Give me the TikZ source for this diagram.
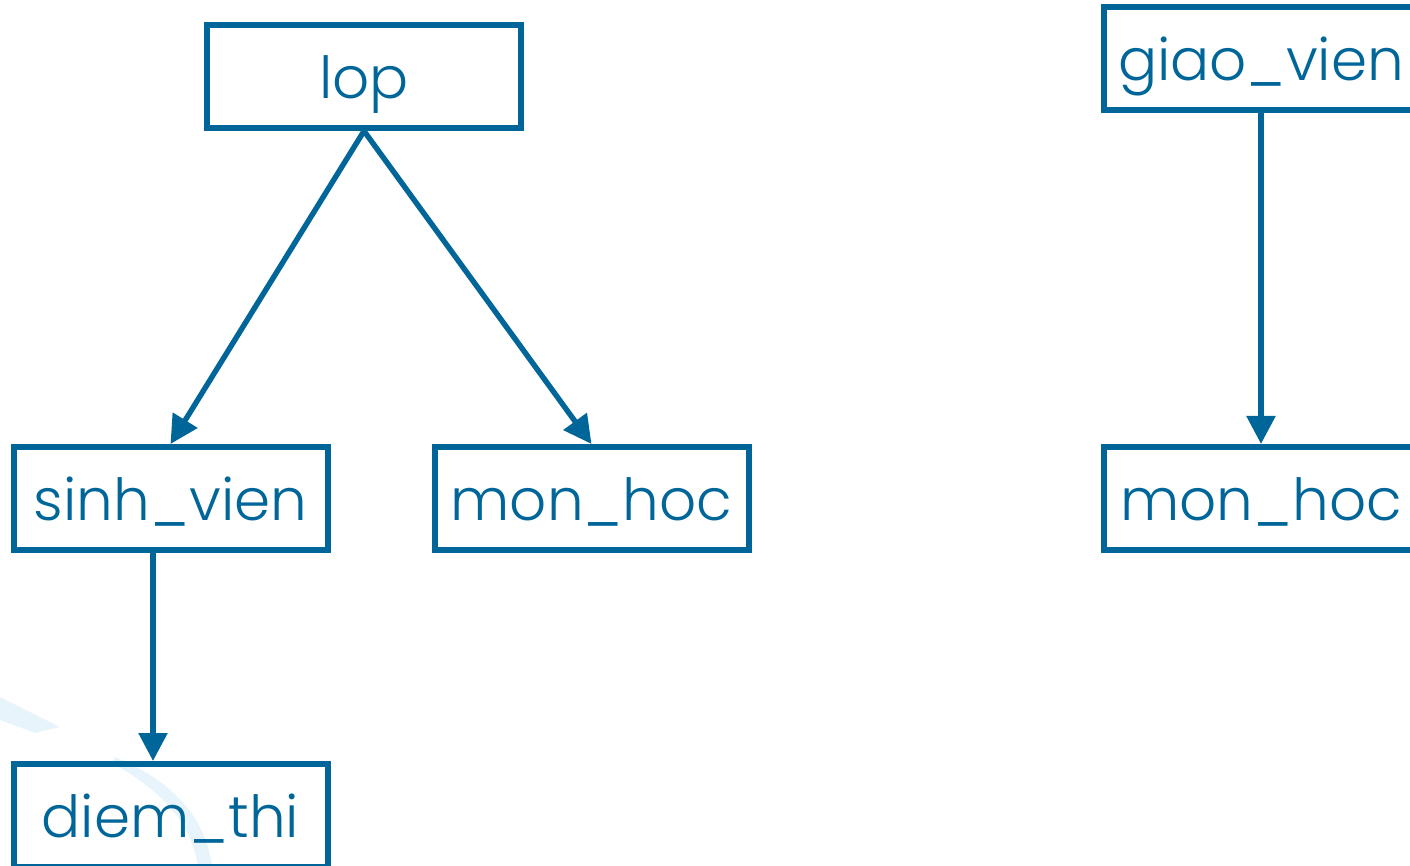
\documentclass[tikz,border=0pt]{standalone}
\usepackage{fontspec}
\setmainfont{Poppins}[UprightFont=* Light]
\usepackage{xcolor}
\usetikzlibrary{arrows.meta, positioning}
\definecolor{tblue}{HTML}{006699}
\definecolor{swoosh}{HTML}{E8F4FC}

\begin{document}
\begin{tikzpicture}[
  x=0.5pt, y=-0.5pt,
  font=\fontsize{29}{35}\selectfont,
  table/.style={
    draw=tblue,
    text=tblue,
    line width=3pt,
    rectangle,
    align=center,
    minimum width=157pt,
    minimum height=51.5pt,
    text height=22pt,
    text depth=0pt,
    inner sep=0pt
  },
  arrow/.style={-{Triangle[length=14pt,width=14pt]}, draw=tblue, fill=tblue, line width=2.7pt}
]
\useasboundingbox (0,0) rectangle (1410,866);

% fond
\fill[swoosh] (0,697) -- (60,727) -- (35,733) -- (0,720) -- cycle;
\fill[swoosh] (115,757) .. controls (170,780) and (205,815) .. (212,866)
  -- (198,866) .. controls (190,820) and (160,790) .. (112,763) -- cycle;

% Noeuds
\node[table] (lop) at (364,76.5) {lop};
\node[table] (sinhvien) at (170.5,498.5) {sinh\_vien};
\node[table, right=50.5pt of sinhvien] (monhoc) {mon\_hoc};
\node[table, below=104pt of sinhvien] (diemthi) {diem\_thi};
\node[table] (giaovien) at (1261,58.5) {giao\_vien};
\node[table] (monhocgv) at (1261,498.5) {mon\_hoc};

% Fleches
\draw[arrow] (lop.south) -- (sinhvien.north);
\draw[arrow] (lop.south) -- (monhoc.north);
\draw[arrow] ([xshift=-8.75pt]sinhvien.south) -- ([xshift=-8.75pt]diemthi.north);
\draw[arrow] (giaovien.south) -- (monhocgv.north);

\end{tikzpicture}
\end{document}
